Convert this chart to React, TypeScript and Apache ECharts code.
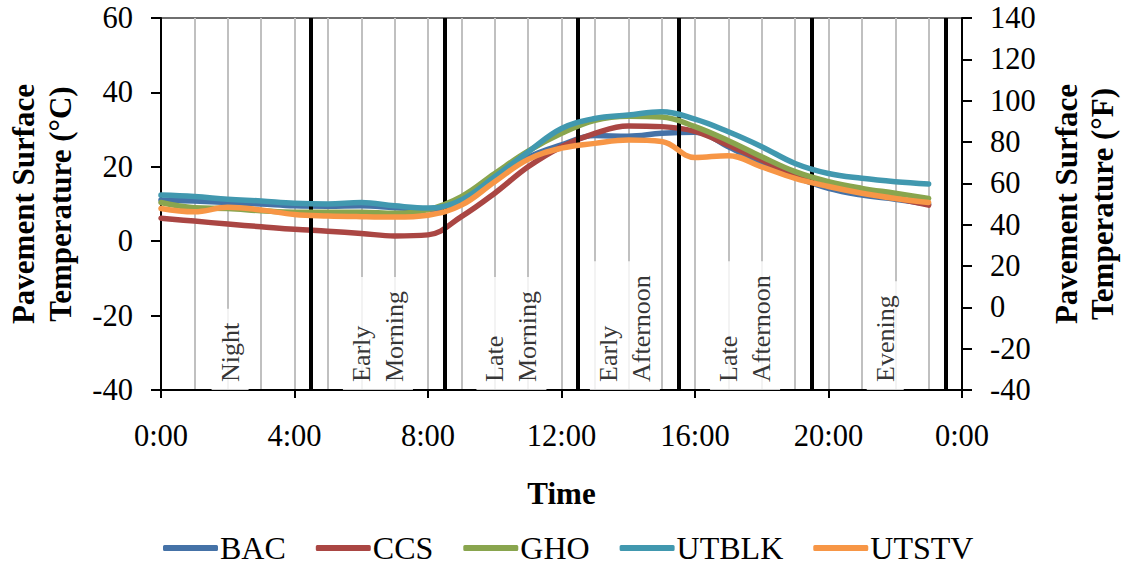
import React, { useEffect, useRef } from "react";
import * as echarts from "echarts";

const hours = [0, 1, 2, 3, 4, 5, 6, 7, 8, 9, 10, 11, 12, 13, 14, 15, 16, 17, 18, 19, 20, 21, 22, 23];

const seriesNames = ["BAC", "CCS", "GHO", "UTBLK", "UTSTV"];
const seriesColors = ["#4572A7", "#AA4643", "#89A54E", "#4198AF", "#F79646"];

const bac = [11.1, 10.8, 10.4, 10.0, 9.5, 9.4, 9.5, 9.0, 8.6, 10.2, 16.5, 22.5, 25.9, 28.4, 28.2, 29.0, 29.3, 25.4, 20.9, 17.3, 14.2, 12.4, 11.3, 10.0];
const ccs = [6.2, 5.4, 4.6, 3.9, 3.2, 2.7, 2.1, 1.4, 1.7, 6.6, 12.9, 20.0, 25.4, 29.0, 31.0, 30.8, 29.5, 25.8, 21.8, 17.8, 15.1, 13.0, 11.5, 9.7];
const gho = [10.4, 9.0, 8.8, 8.2, 7.8, 7.8, 7.8, 7.5, 8.5, 12.0, 18.2, 24.2, 29.0, 32.5, 33.6, 33.4, 30.8, 27.0, 22.7, 18.7, 16.0, 14.2, 12.9, 11.5];
const utblk = [12.4, 12.0, 11.3, 10.8, 10.2, 10.0, 10.4, 9.5, 8.9, 11.1, 17.3, 24.0, 30.3, 33.0, 33.9, 34.8, 32.8, 29.4, 25.4, 20.9, 18.2, 16.9, 16.0, 15.4];
const utstv = [8.8, 7.9, 9.1, 8.4, 7.2, 6.8, 6.6, 6.5, 7.0, 9.7, 16.0, 22.0, 25.0, 26.3, 27.2, 26.8, 22.5, 23.0, 20.0, 16.9, 14.7, 12.9, 11.5, 10.4];
const seriesValues = [bac, ccs, gho, utblk, utstv];

const periodBoundaries = [4.5, 8.5, 12.5, 15.5, 19.5, 23.5];
const periodLabels = ["Night", "Early\nMorning", "Late\nMorning", "Early\nAfternoon", "Late\nAfternoon", "Evening"];
const periodCenters = [2.07, 6.5, 10.5, 13.9, 17.5, 21.7];

const FONT = "'Liberation Serif', 'Times New Roman', serif";

export default function App() {
  const ref = useRef<HTMLDivElement>(null);
  useEffect(() => {
    if (!ref.current) return;
    const chart = echarts.init(ref.current, undefined, { renderer: "svg" });
    const lineSeries = seriesNames.map((name, i) => ({
      name,
      type: "line",
      xAxisIndex: 0,
      yAxisIndex: 0,
      data: hours.map((h, j) => [h, seriesValues[i][j]]),
      symbol: "none",
      smooth: 0.4,
      lineStyle: { width: 5.5, color: seriesColors[i], cap: "round", join: "round" },
      itemStyle: { color: seriesColors[i] },
      z: 3 + i,
    }));
    const option: any = {
      animation: false,
      textStyle: { fontFamily: FONT, color: "#000" },
      grid: {
        left: 161,
        right: 165,
        top: 18,
        bottom: 175,
        show: true,
        borderColor: "#404040",
        borderWidth: 1.5,
        backgroundColor: "transparent",
        containLabel: false,
        outerBoundsMode: "none",
      },
      legend: {
        data: seriesNames,
        left: 158,
        top: 527,
        icon: "roundRect",
        itemWidth: 55,
        itemHeight: 6,
        itemGap: 30,
        textStyle: { fontFamily: FONT, fontSize: 32, color: "#000", padding: [0, 0, 0, -3] },
      },
      xAxis: {
        type: "value",
        min: 0,
        max: 24,
        interval: 4,
        name: "Time",
        nameLocation: "middle",
        nameGap: 88,
        nameTextStyle: { fontFamily: FONT, fontSize: 31, fontWeight: "bold", color: "#000" },
        axisLine: { show: true, onZero: false, lineStyle: { color: "#000", width: 2 } },
        axisTick: { show: true, length: 8, lineStyle: { color: "#000", width: 2 } },
        axisLabel: {
          fontFamily: FONT,
          fontSize: 30.5,
          color: "#000",
          margin: 30,
          formatter: (v: number) => `${v % 24}:00`,
        },
        splitLine: { show: true, lineStyle: { color: "#C0C0C0", width: 2 } },
        minorTick: { show: false, splitNumber: 4 },
        minorSplitLine: { show: true, lineStyle: { color: "#C0C0C0", width: 2 } },
      },
      yAxis: [
        {
          type: "value",
          min: -40,
          max: 60,
          interval: 20,
          position: "left",
          name: "Pavement Surface\nTemperature (°C)",
          nameLocation: "middle",
          nameRotate: 90,
          nameGap: 82,
          nameTextStyle: { fontFamily: FONT, fontSize: 31, fontWeight: "bold", color: "#000", lineHeight: 37 },
          axisLine: { show: true, onZero: false, lineStyle: { color: "#000", width: 2 } },
          axisTick: { show: true, length: 10, lineStyle: { color: "#000", width: 2 } },
          axisLabel: { fontFamily: FONT, fontSize: 30.5, color: "#000", margin: 28 },
          splitLine: { show: false },
        },
        {
          type: "value",
          min: -40,
          max: 140,
          interval: 20,
          position: "right",
          name: "Pavement Surface\nTemperature (°F)",
          nameLocation: "middle",
          nameRotate: 90,
          nameGap: 86,
          nameTextStyle: { fontFamily: FONT, fontSize: 31, fontWeight: "bold", color: "#000", lineHeight: 36 },
          axisLine: { show: true, onZero: false, lineStyle: { color: "#000", width: 2 } },
          axisTick: { show: true, length: 10, lineStyle: { color: "#000", width: 2 } },
          axisLabel: { fontFamily: FONT, fontSize: 30.5, color: "#000", margin: 28 },
          splitLine: { show: false },
        },
      ],
      series: [
        {
          name: "periods",
          type: "scatter",
          xAxisIndex: 0,
          yAxisIndex: 0,
          symbolSize: 1,
          itemStyle: { color: "rgba(0,0,0,0)" },
          silent: true,
          z: 2,
          data: periodCenters.map((c, i) => ({ value: [c, -40], name: periodLabels[i] })),
          label: {
            show: true,
            position: "inside",
            rotate: 90,
            align: "left",
            verticalAlign: "middle",
            formatter: (p: any) => p.name,
            fontFamily: FONT,
            fontSize: 26,
            lineHeight: 33,
            color: "#000",
            backgroundColor: "#fff",
            padding: [2, 14, 2, 8],
          },
          markLine: {
            silent: true,
            symbol: ["none", "none"],
            label: { show: false },
            lineStyle: { color: "#000", width: 4, type: "solid" },
            data: periodBoundaries.map((b) => ({ xAxis: b })),
          },
        },
        ...lineSeries,
      ],
    };
    chart.setOption(option);
    return () => chart.dispose();
  }, []);
  return (
    <div
      ref={ref}
      style={{ position: "fixed", left: 0, top: 0, width: 1127, height: 565, background: "#fff" }}
    />
  );
}
